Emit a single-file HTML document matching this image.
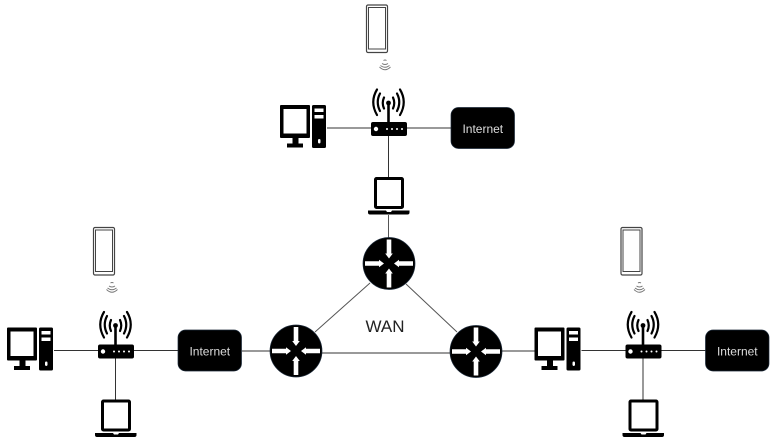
<!DOCTYPE html>
<html>
<head>
<meta charset="utf-8">
<style>
html,body{margin:0;padding:0;background:#fff;width:773px;height:441px;overflow:hidden}
svg{display:block}
text{font-family:"Liberation Sans",sans-serif}
</style>
</head>
<body>
<svg width="773" height="441" viewBox="0 0 773 441" xmlns="http://www.w3.org/2000/svg">
<defs>
<g id="site">
  <!-- links -->
  <path d="M327 128H371M407 128H451M388.500 136V177" stroke="#333" stroke-width="1" fill="none"/>
  <!-- phone -->
  <rect x="366.500" y="5" width="21" height="47.500" rx="1.500" fill="#fff" stroke="#444" stroke-width="1.200"/>
  <rect x="368.500" y="7.500" width="17" height="41.500" fill="#fff" stroke="#444" stroke-width="1"/>
  <!-- small wifi -->
  <g fill="none" stroke="#777" stroke-width="0.900">
    <path d="M383.500 60.500Q385 59.500 386.500 60.500"/>
    <path d="M382 63.500Q385 65.500 388 63.500"/>
    <path d="M380.500 65.500Q385 69 389.500 65.500"/>
    <path d="M379.500 67Q385 72.500 390.500 67"/>
  </g>
  <!-- router -->
  <rect x="371" y="122" width="36" height="14" rx="2" fill="#000"/>
  <circle cx="376" cy="129" r="2.200" fill="#fff"/>
  <g fill="#fff"><circle cx="387" cy="129" r="1"/><circle cx="392" cy="129" r="1"/><circle cx="397" cy="129" r="1"/><circle cx="402" cy="129" r="1"/></g>
  <path d="M388.500 103V122" stroke="#000" stroke-width="2.600"/>
  <circle cx="388.500" cy="103" r="2.400" fill="#000"/>
  <g fill="none" stroke="#000" stroke-width="2.200" stroke-linecap="round">
    <path d="M384 97.500Q381.500 103 384 108.500"/>
    <path d="M393 97.500Q395.500 103 393 108.500"/>
    <path d="M380 93.500Q375.500 102 380 111"/>
    <path d="M397 93.500Q401.500 102 397 111"/>
    <path d="M377 89.500Q369.500 102 377 115"/>
    <path d="M400 89.500Q407.500 102 400 115"/>
  </g>
  <!-- pc -->
  <path fill-rule="evenodd" d="M281 105H309Q310 105 310 106V137Q310 138 309 138H281Q280 138 280 137V106Q280 105 281 105ZM283.500 109V133.500H306.500V109Z" fill="#000"/>
  <rect x="292.500" y="138" width="6" height="6" fill="#000"/>
  <rect x="287" y="143.500" width="16" height="4" fill="#000"/>
  <rect x="312" y="105" width="14" height="43" rx="1.500" fill="#000"/>
  <rect x="314.500" y="108.500" width="9" height="3.500" fill="#fff"/>
  <rect x="314.500" y="115" width="9" height="3.500" fill="#fff"/>
  <rect x="318" y="139" width="2.500" height="4.500" rx="1.200" fill="#fff"/>
  <!-- internet -->
  <rect x="451" y="107.500" width="63.500" height="41" rx="7.500" fill="#000" stroke="#1c2a3a" stroke-width="0.700"/>
  <text x="482.800" y="133" font-size="12" fill="#ddd" text-anchor="middle">Internet</text>
  <!-- laptop -->
  <rect x="375.500" y="178.500" width="27" height="29" rx="1" fill="#fff" stroke="#000" stroke-width="3"/>
  <path d="M368 210.500H386L387 212H391L392 210.500H409.500V212.500Q409.500 214.500 407.500 214.500H370Q368 214.500 368 212.500Z" fill="#000"/>
</g>
<g id="rtr">
  <circle r="26" fill="#000" stroke="#1c2a3a" stroke-width="0.700"/>
  <path d="M-2.300 -24V-10H-3.800L0 -5L3.800 -10H2.300V-24Z" fill="#fff"/>
  <path d="M-24 -2.300H-10V-3.800L-5 0L-10 3.800V2.300H-24Z" fill="#fff"/>
  <path d="M24 -2.300H10V-3.800L5 0L10 3.800V2.300H24Z" fill="#fff"/>
  <path d="M-2.300 24V10H-3.800L0 5L3.800 10H2.300V24Z" fill="#fff"/>
</g>
</defs>

<!-- WAN links -->
<path d="M388.500 215V238M370 283L315 332M406 284L457 332" stroke="#555" stroke-width="1" fill="none"/>
<path d="M296 353H476" stroke="#333" stroke-width="1" fill="none"/>
<path d="M242 351H270M502 351H535" stroke="#333" stroke-width="1" fill="none"/>

<use href="#site"/>
<use href="#site" transform="translate(-273 222.500)"/>
<use href="#site" transform="translate(254.500 222.500)"/>

<use href="#rtr" transform="translate(389 263.500)"/>
<use href="#rtr" transform="translate(296 351)"/>
<use href="#rtr" transform="translate(476 351.500)"/>

<text x="385" y="332" font-size="17" fill="#222" text-anchor="middle">WAN</text>
</svg>
</body>
</html>
